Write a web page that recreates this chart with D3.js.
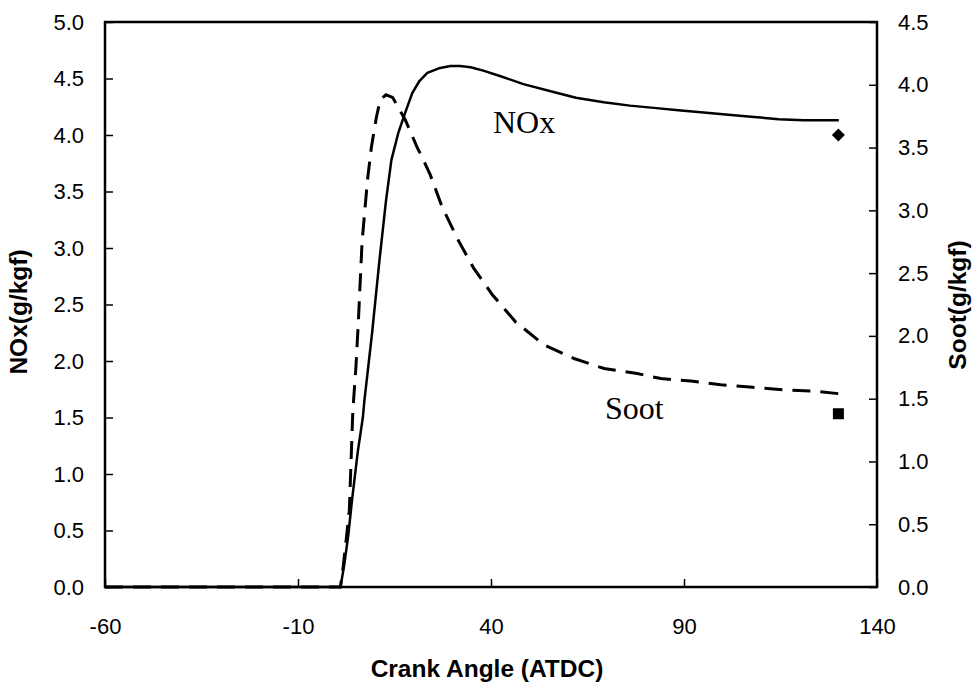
<!DOCTYPE html>
<html>
<head>
<meta charset="utf-8">
<script src="https://cdn.jsdelivr.net/npm/d3@7"></script>
<style>
  body { margin: 0; background: #fff; }
  svg { display: block; }
  .tick text { font-family: "Liberation Sans", Arial, sans-serif; font-size: 22px; fill: #000; }
</style>
</head>
<body>
<svg id="chart" width="972" height="686"></svg>
<script>
// ---- data ----
const xTicks = [-60, -10, 40, 90, 140];
const noxTicks = [0, 0.5, 1, 1.5, 2, 2.5, 3, 3.5, 4, 4.5, 5];
const sootTicks = [0, 0.5, 1, 1.5, 2, 2.5, 3, 3.5, 4, 4.5];

const noxAngle = [-60, -30, 0, 1.0, 2.0, 3.0, 4.0, 5.5, 6.8, 7.2, 9.2, 11.1, 12.8, 14.2, 16.0, 17.8, 19.6, 21.5, 23.5, 26.5, 29.5, 32.0, 34.7, 38.0, 42.5, 48.4, 56.2, 62.0, 69.2, 76.0, 82.2, 88.5, 95.1, 101.5, 108.1, 114.5, 121.1, 125.5, 130.1];
const noxValue = [0, 0, 0, 0, 0.2, 0.45, 0.77, 1.2, 1.5, 1.65, 2.25, 2.89, 3.42, 3.78, 4.02, 4.2, 4.37, 4.48, 4.55, 4.59, 4.61, 4.61, 4.6, 4.57, 4.52, 4.45, 4.38, 4.33, 4.29, 4.26, 4.24, 4.22, 4.2, 4.18, 4.16, 4.14, 4.13, 4.13, 4.13];

const sootAngle = [-60, -30, 0, 1.0, 1.7, 2.5, 3.3, 4.2, 5.0, 5.6, 6.6, 8.0, 9.0, 10.3, 11.3, 12.8, 14.5, 17.8, 20.9, 22.2, 24.3, 27.3, 31.2, 35.5, 40.3, 46.4, 53.7, 61.5, 69.3, 77.9, 84.0, 91.8, 99.5, 107.8, 115.9, 123.7, 130.0];
const sootValue = [0, 0, 0, 0, 0.16, 0.38, 0.61, 1.4, 1.75, 2.09, 2.75, 3.24, 3.5, 3.74, 3.88, 3.92, 3.9, 3.72, 3.5, 3.42, 3.28, 3.03, 2.78, 2.54, 2.33, 2.11, 1.93, 1.82, 1.74, 1.7, 1.66, 1.64, 1.61, 1.59, 1.57, 1.56, 1.54];

const noxMeasured = { angle: 130, value: 4.0 };
const sootMeasured = { angle: 130, value: 1.38 };

// ---- layout ----
const svg = d3.select("#chart");
const L = 105, R = 877, T = 22, B = 587;

const x = d3.scaleLinear().domain([-60, 140]).range([L, R]);
const yL = d3.scaleLinear().domain([0, 5]).range([B, T]);
const yR = d3.scaleLinear().domain([0, 4.5]).range([B, T]);

// series
const noxData = noxAngle.map((a, i) => [a, noxValue[i]]);
const sootData = sootAngle.map((a, i) => [a, sootValue[i]]);

svg.append("path")
  .datum(sootData)
  .attr("fill", "none")
  .attr("stroke", "#000")
  .attr("stroke-width", 3)
  .attr("stroke-dasharray", "18,10")
  .attr("d", d3.line().x(d => x(d[0])).y(d => yR(d[1])));

svg.append("path")
  .datum(noxData)
  .attr("fill", "none")
  .attr("stroke", "#000")
  .attr("stroke-width", 2.5)
  .attr("stroke-linejoin", "round")
  .attr("d", d3.line().x(d => x(d[0])).y(d => yL(d[1])));

// axes
const fmt1 = d3.format(".1f");
const fmtX = d => String(d);
const gx = svg.append("g").attr("transform", `translate(0,${B})`)
  .call(d3.axisBottom(x).tickValues(xTicks).tickSizeInner(-8).tickSizeOuter(0).tickPadding(31).tickFormat(fmtX));
const gl = svg.append("g").attr("transform", `translate(${L},0)`)
  .call(d3.axisLeft(yL).tickValues(noxTicks).tickSizeInner(-8).tickSizeOuter(0).tickPadding(21).tickFormat(fmt1));
const gr = svg.append("g").attr("transform", `translate(${R},0)`)
  .call(d3.axisRight(yR).tickValues(sootTicks).tickSizeInner(-8).tickSizeOuter(0).tickPadding(21).tickFormat(fmt1));

[gx, gl, gr].forEach(g => {
  g.select(".domain").remove();
  g.selectAll(".tick line").attr("stroke", "#000").attr("stroke-width", 1.5);
});

// frame
svg.append("rect")
  .attr("x", L).attr("y", T).attr("width", R - L).attr("height", B - T)
  .attr("fill", "none").attr("stroke", "#000").attr("stroke-width", 2.5);

// measured markers
const dx = x(noxMeasured.angle), dy = yL(noxMeasured.value), h = 6.5;
svg.append("path")
  .attr("d", `M${dx},${dy - h}L${dx + h},${dy}L${dx},${dy + h}L${dx - h},${dy}Z`)
  .attr("fill", "#000");
const sq = 11;
svg.append("rect")
  .attr("x", x(sootMeasured.angle) - sq / 2).attr("y", yR(sootMeasured.value) - sq / 2)
  .attr("width", sq).attr("height", sq).attr("fill", "#000");

// series labels
svg.append("text").attr("x", 493).attr("y", 133)
  .attr("font-family", "'Liberation Serif', 'Times New Roman', serif").attr("font-size", 32)
  .text("NOx");
svg.append("text").attr("x", 605).attr("y", 419)
  .attr("font-family", "'Liberation Serif', 'Times New Roman', serif").attr("font-size", 32)
  .text("Soot");

// axis titles
const titleFont = "'Liberation Sans', Arial, sans-serif";
svg.append("text").attr("x", 487).attr("y", 677)
  .attr("text-anchor", "middle")
  .attr("font-family", titleFont).attr("font-weight", "bold").attr("font-size", 24.5)
  .text("Crank Angle (ATDC)");
svg.append("text").attr("transform", "translate(27,312) rotate(-90)")
  .attr("text-anchor", "middle")
  .attr("font-family", titleFont).attr("font-weight", "bold").attr("font-size", 24.5)
  .text("NOx(g/kgf)");
svg.append("text").attr("transform", "translate(966,305) rotate(-90)")
  .attr("text-anchor", "middle")
  .attr("font-family", titleFont).attr("font-weight", "bold").attr("font-size", 24.5)
  .text("Soot(g/kgf)");
</script>
</body>
</html>
